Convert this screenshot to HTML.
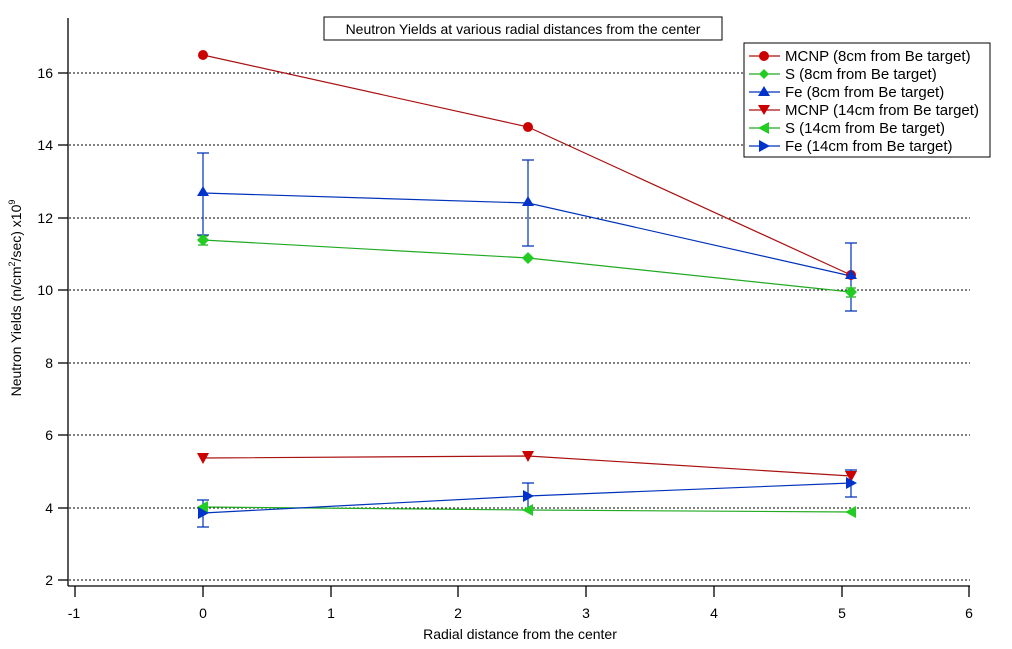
<!DOCTYPE html><html><head><style>body{margin:0;background:#fff}</style></head><body>
<svg width="1012" height="644" xmlns="http://www.w3.org/2000/svg" font-family="Liberation Sans, Arial, sans-serif">
<rect width="1012" height="644" fill="#fff"/>
<g stroke="#000" stroke-dasharray="2,2" stroke-width="1">
<line x1="69" y1="73" x2="970" y2="73"/><line x1="69" y1="145" x2="970" y2="145"/><line x1="69" y1="218" x2="970" y2="218"/><line x1="69" y1="290" x2="970" y2="290"/><line x1="69" y1="363" x2="970" y2="363"/><line x1="69" y1="435" x2="970" y2="435"/><line x1="69" y1="508" x2="970" y2="508"/><line x1="69" y1="580" x2="970" y2="580"/>
</g>
<g stroke="#000" stroke-width="1.3" fill="none">
<line x1="68" y1="18" x2="68" y2="586"/><line x1="68" y1="586" x2="970" y2="586"/>
<line x1="58" y1="73" x2="68" y2="73"/><line x1="58" y1="145" x2="68" y2="145"/><line x1="58" y1="218" x2="68" y2="218"/><line x1="58" y1="290" x2="68" y2="290"/><line x1="58" y1="363" x2="68" y2="363"/><line x1="58" y1="435" x2="68" y2="435"/><line x1="58" y1="508" x2="68" y2="508"/><line x1="58" y1="580" x2="68" y2="580"/>
<line x1="75" y1="586" x2="75" y2="597"/><line x1="203" y1="586" x2="203" y2="597"/><line x1="331" y1="586" x2="331" y2="597"/><line x1="458" y1="586" x2="458" y2="597"/><line x1="586" y1="586" x2="586" y2="597"/><line x1="714" y1="586" x2="714" y2="597"/><line x1="842" y1="586" x2="842" y2="597"/><line x1="969" y1="586" x2="969" y2="597"/>
</g>
<g font-size="14" fill="#000" text-anchor="end">
<text x="53" y="78">16</text><text x="53" y="150">14</text><text x="53" y="223">12</text><text x="53" y="295">10</text><text x="53" y="368">8</text><text x="53" y="440">6</text><text x="53" y="513">4</text><text x="53" y="585">2</text>
</g>
<g font-size="14" fill="#000" text-anchor="middle">
<text x="74" y="618">-1</text><text x="203" y="618">0</text><text x="331" y="618">1</text><text x="458" y="618">2</text><text x="586" y="618">3</text><text x="714" y="618">4</text><text x="842" y="618">5</text><text x="969" y="618">6</text>
<text x="520" y="639">Radial distance from the center</text>
</g>
<text transform="translate(21,298) rotate(-90)" font-size="14" text-anchor="middle">Neutron Yields (n/cm<tspan font-size="9" dy="-6">2</tspan><tspan dy="6">/sec)  x10</tspan><tspan font-size="9" dy="-6">9</tspan></text>
<rect x="324" y="17" width="398" height="23" fill="#fff" stroke="#000"/>
<text x="523" y="34" font-size="14" text-anchor="middle">Neutron Yields at various radial distances from the center</text>
<g stroke="#0033bb" stroke-width="1.2" fill="none">
<path d="M203 153V235M197 153h12M197 235h12M528 160V246M522 160h12M522 246h12M851 243V311M845 243h12M845 311h12"/>
<path d="M203 500V527M197 500h12M197 527h12M528 483V510M522 483h12M522 510h12M851 470V497M845 470h12M845 497h12"/>
</g>
<g stroke="#22aa22" stroke-width="1.2"><path d="M198 236h10M198 245h10M846 288h10M846 297h10"/></g>
<g fill="none" stroke-width="1.2">
<polyline points="203,55 528,127 851,275" stroke="#aa1111"/>
<polyline points="203,240 528,258 851,292" stroke="#22aa22"/>
<polyline points="203,193 528,203 851,276" stroke="#0033bb"/>
<polyline points="203,458 528,456 851,476" stroke="#aa1111"/>
<polyline points="203,507 528,510 851,512" stroke="#22aa22"/>
<polyline points="203,513 528,496 851,483" stroke="#0033bb"/>
</g>
<g fill="#cc0000"><circle cx="203" cy="55" r="5"/><circle cx="528" cy="127" r="5"/><circle cx="851" cy="275" r="5"/></g>
<g fill="#22cc22"><path d="M203 234l6 6-6 6-6-6zM528 252l6 6-6 6-6-6zM851 286l6 6-6 6-6-6z"/></g>
<g fill="#0033cc"><path d="M203 186l6 10h-12zM528 196l6 10h-12zM851 269l6 10h-12z"/></g>
<g fill="#cc0000"><path d="M197 453h12l-6 11zM522 451h12l-6 11zM845 471h12l-6 11z"/></g>
<g fill="#22cc22"><path d="M197 507l11-6v12zM522 510l11-6v12zM845 512l11-6v12z"/></g>
<g fill="#0033cc"><path d="M209 513l-11-6v12zM534 496l-11-6v12zM857 483l-11-6v12z"/></g>
<rect x="744" y="43" width="246" height="114" fill="#fff" stroke="#000"/>
<g stroke-width="1.2" font-size="15">
<line x1="749" y1="56" x2="780" y2="56" stroke="#aa1111"/><circle cx="764" cy="56" r="5" fill="#cc0000"/><text x="785" y="61">MCNP (8cm from Be target)</text>
<line x1="749" y1="74" x2="780" y2="74" stroke="#22aa22"/><path d="M764 69l5 5-5 5-5-5z" fill="#22cc22"/><text x="785" y="79">S (8cm from Be target)</text>
<line x1="749" y1="92" x2="780" y2="92" stroke="#0033bb"/><path d="M764 86l6 10h-12z" fill="#0033cc"/><text x="785" y="97">Fe (8cm from Be target)</text>
<line x1="749" y1="110" x2="780" y2="110" stroke="#aa1111"/><path d="M758 105h12l-6 10z" fill="#cc0000"/><text x="785" y="115">MCNP (14cm from Be target)</text>
<line x1="749" y1="128" x2="780" y2="128" stroke="#22aa22"/><path d="M758 128l11-6v12z" fill="#22cc22"/><text x="785" y="133">S (14cm from Be target)</text>
<line x1="749" y1="146" x2="780" y2="146" stroke="#0033bb"/><path d="M770 146l-11-6v12z" fill="#0033cc"/><text x="785" y="151">Fe (14cm from Be target)</text>
</g>
</svg>
</body></html>
